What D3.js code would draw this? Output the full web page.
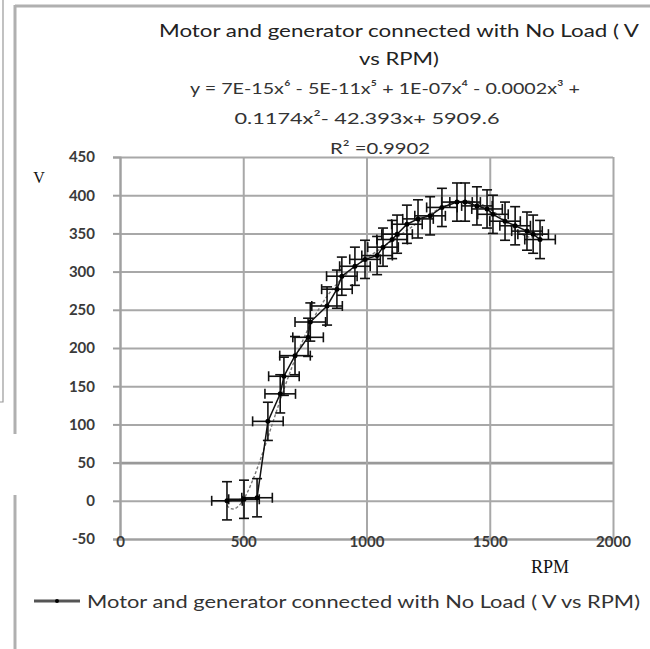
<!DOCTYPE html>
<html>
<head>
<meta charset="utf-8">
<script src="https://cdn.jsdelivr.net/npm/d3@7"></script>
<style>
  body { margin: 0; background: #fff; }
  svg { display: block; }
</style>
</head>
<body>
<svg id="chart" width="650" height="649"></svg>
<script>
// values
let rpm  = [434, 503, 556, 600, 650, 665, 710, 763, 772, 840, 880, 900, 953, 994, 1043, 1067, 1104, 1124, 1164, 1209, 1258, 1306, 1367, 1400, 1448, 1489, 1513, 1562, 1603, 1651, 1676, 1704];
let volt = [0, 2, 4, 104, 140, 163, 190, 214, 234, 255, 277, 294, 307, 316, 321, 332, 342, 349, 362, 369, 373, 384, 391, 391, 386, 382, 375, 366, 360, 353, 349, 342];
let rpmErr = 62;
let voltErr = 25;
let xTicks = [0, 500, 1000, 1500, 2000];
let yTicks = [-50, 0, 50, 100, 150, 200, 250, 300, 350, 400, 450];
let titleLines = ["Motor and generator connected with No Load ( V", "vs RPM)"];
let eqLines = ["y = 7E-15x\u2076 - 5E-11x\u2075 + 1E-07x\u2074 - 0.0002x\u00b3 +", "0.1174x\u00b2- 42.393x+ 5909.6", "R\u00b2 =0.9902"];
let seriesName = "Motor and generator connected with No Load ( V vs RPM)";

let data = rpm.map((r, i) => ({x: r, y: volt[i]}));

let svg = d3.select("#chart");
let font = "Lato, 'Open Sans', sans-serif";

let x = d3.scaleLinear().domain([0, 2000]).range([120, 613]);
let y = d3.scaleLinear().domain([-50, 450]).range([539, 157]);

// screenshot frame bits
svg.append("line").attr("x1", 15).attr("y1", 6).attr("x2", 650).attr("y2", 6)
    .attr("stroke", "#b0b0b0").attr("stroke-width", 3)
svg.append("line").attr("x1", 15).attr("y1", 5).attr("x2", 15).attr("y2", 434)
    .attr("stroke", "#b0b0b0").attr("stroke-width", 3)
svg.append("line").attr("x1", 15).attr("y1", 495).attr("x2", 15).attr("y2", 649)
    .attr("stroke", "#b0b0b0").attr("stroke-width", 3)
svg.append("path").attr("d", "M3,0V402H0")
    .attr("fill", "none").attr("stroke", "#999").attr("stroke-width", 1.2)

// gridlines
svg.append("g").attr("transform", "translate(120,0)")
    .call(d3.axisLeft(y).tickValues(yTicks).tickSize(-(613 - 120)).tickFormat(""))
    .call(g => g.select(".domain").remove())
    .call(g => g.selectAll("line").attr("stroke", "#a8a8a8").attr("stroke-width", 2))
    .call(g => g.selectAll("line").filter(d => d == 50).attr("stroke", "#999").attr("stroke-width", 2.6));
svg.append("g").attr("transform", "translate(0,539)")
    .call(d3.axisBottom(x).tickValues(xTicks).tickSize(-(539 - 157)).tickFormat(""))
    .call(g => g.select(".domain").remove())
    .call(g => g.selectAll("line").attr("stroke", "#a8a8a8").attr("stroke-width", 2));

// y axis with outside ticks
svg.append("g").attr("transform", "translate(120,0)")
    .call(d3.axisLeft(y).tickValues(yTicks).tickSize(7).tickPadding(18).tickFormat(d => String(d)))
    .call(g => g.select(".domain").attr("stroke", "#a0a0a0").attr("stroke-width", 2))
    .call(g => g.selectAll("line").attr("stroke", "#a0a0a0").attr("stroke-width", 2))
    .call(g => g.selectAll("text").attr("font-family", font).attr("font-size", 15)
        .attr("fill", "#3a3a3a").attr("font-weight", "bold"));

// x axis, labels sit over the axis line like the original
svg.append("g").attr("transform", "translate(0,539)")
    .call(d3.axisBottom(x).tickValues(xTicks).tickSize(0).tickPadding(-3).tickFormat(d => String(d)))
    .call(g => g.select(".domain").attr("stroke", "#a0a0a0").attr("stroke-width", 2))
    .call(g => g.selectAll("text").attr("font-family", font).attr("font-size", 15)
        .attr("fill", "#3a3a3a").attr("font-weight", "bold"));

// axis titles
svg.append("text").attr("x", 39).attr("y", 183).attr("text-anchor", "middle")
    .attr("font-family", "'Liberation Serif', serif").attr("font-size", 16).attr("fill", "#111").text("V")
svg.append("text").attr("x", 550).attr("y", 573).attr("text-anchor", "middle")
    .attr("font-family", "'Liberation Serif', serif").attr("font-size", 18).attr("fill", "#111").text("RPM")

// title and trendline equation
let titleY = [37, 65];
let titleW = [480, 80];
titleLines.forEach((t, i) => {
    svg.append("text").attr("x", 399).attr("y", titleY[i]).attr("text-anchor", "middle")
        .attr("font-family", font).attr("font-size", 18).attr("fill", "#222")
        .attr("textLength", titleW[i]).attr("lengthAdjust", "spacingAndGlyphs").text(t)
});
let eqY = [94, 124, 154];
let eqW = [390, 265, 100];
let eqX = [385, 367, 380];
eqLines.forEach((t, i) => {
    svg.append("text").attr("x", eqX[i]).attr("y", eqY[i]).attr("text-anchor", "middle")
        .attr("font-family", font).attr("font-size", 16).attr("fill", "#333")
        .attr("textLength", eqW[i]).attr("lengthAdjust", "spacingAndGlyphs").text(t)
});

// polynomial trendline (order 6), least squares on scaled x
function polyFit(xs, ys, deg) {
    let n = deg + 1;
    let A = [];
    for (let r = 0; r < n; r++) {
        A.push(new Array(n + 1).fill(0));
    }
    xs.forEach((xv, k) => {
        for (let r = 0; r < n; r++) {
            for (let c = 0; c < n; c++) A[r][c] += Math.pow(xv, r + c);
            A[r][n] += ys[k] * Math.pow(xv, r);
        }
    });
    for (let c = 0; c < n; c++) {
        let p = c;
        for (let r = c + 1; r < n; r++) if (Math.abs(A[r][c]) > Math.abs(A[p][c])) p = r;
        [A[c], A[p]] = [A[p], A[c]];
        for (let r = 0; r < n; r++) {
            if (r == c) continue;
            let f = A[r][c] / A[c][c];
            for (let k = c; k <= n; k++) A[r][k] -= f * A[c][k];
        }
    }
    return A.map((row, i) => row[n] / row[i]);
}
let sx = v => (v - 1000) / 500;
let coef = polyFit(rpm.map(sx), volt, 6);
let trend = d3.range(rpm[0], rpm[rpm.length - 1] + 1, 5).map(r => {
    let t = sx(r);
    return {x: r, y: coef.reduce((s, c, i) => s + c * Math.pow(t, i), 0)};
});
svg.append("path").datum(trend)
    .attr("fill", "none").attr("stroke", "#777").attr("stroke-width", 1.4)
    .attr("stroke-dasharray", "3,2")
    .attr("d", d3.line().x(d => x(d.x)).y(d => y(d.y)));

// error bars
let eb = svg.append("g").attr("stroke", "#111").attr("stroke-width", 1.6);
data.forEach(d => {
    let cx = x(d.x), cy = y(d.y);
    let x0 = x(d.x - rpmErr), x1 = x(d.x + rpmErr);
    let y0 = y(d.y - voltErr), y1 = y(d.y + voltErr);
    eb.append("line").attr("x1", x0).attr("x2", x1).attr("y1", cy).attr("y2", cy)
    eb.append("line").attr("x1", x0).attr("x2", x0).attr("y1", cy - 5).attr("y2", cy + 5)
    eb.append("line").attr("x1", x1).attr("x2", x1).attr("y1", cy - 5).attr("y2", cy + 5)
    eb.append("line").attr("x1", cx).attr("x2", cx).attr("y1", y0).attr("y2", y1)
    eb.append("line").attr("x1", cx - 5).attr("x2", cx + 5).attr("y1", y0).attr("y2", y0)
    eb.append("line").attr("x1", cx - 5).attr("x2", cx + 5).attr("y1", y1).attr("y2", y1)
});

// series line and markers
svg.append("path").datum(data)
    .attr("fill", "none").attr("stroke", "#111").attr("stroke-width", 1.5)
    .attr("d", d3.line().x(d => x(d.x)).y(d => y(d.y)));
svg.selectAll(".pt").data(data).enter().append("circle").attr("class", "pt")
    .attr("cx", d => x(d.x)).attr("cy", d => y(d.y)).attr("r", 2.5).attr("fill", "#000");

// legend
svg.append("line").attr("x1", 34).attr("x2", 80).attr("y1", 601).attr("y2", 601)
    .attr("stroke", "#555").attr("stroke-width", 3)
svg.append("circle").attr("cx", 57).attr("cy", 601).attr("r", 2).attr("fill", "#000")
svg.append("text").attr("x", 87).attr("y", 608)
    .attr("font-family", font).attr("font-size", 18).attr("fill", "#333")
    .attr("textLength", 553).attr("lengthAdjust", "spacingAndGlyphs").text(seriesName)
</script>
</body>
</html>
